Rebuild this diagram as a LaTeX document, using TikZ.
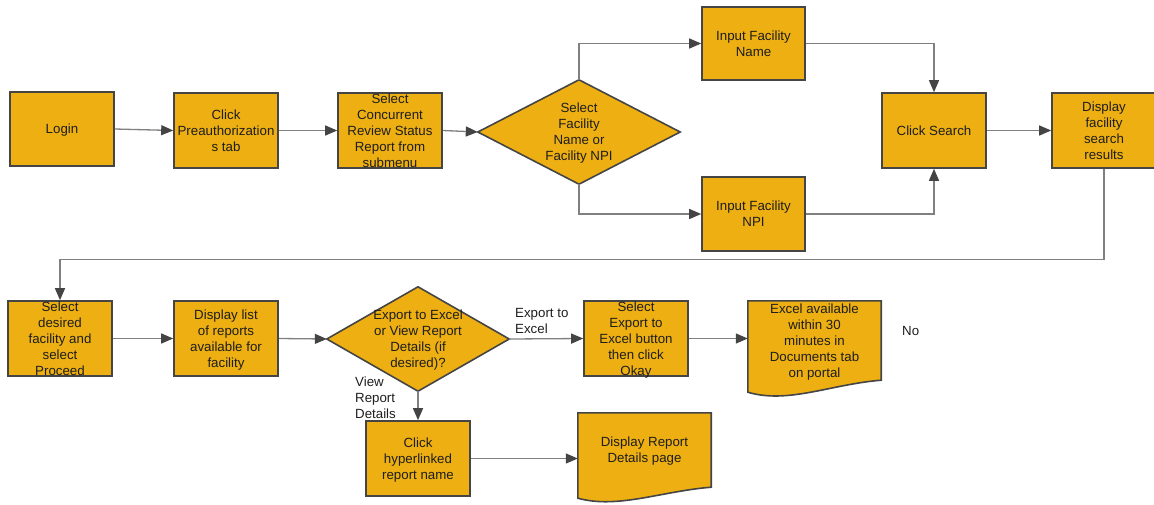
\documentclass[tikz,border=0pt]{standalone}
\usepackage{fontspec}
\setmainfont{Liberation Sans}
\usetikzlibrary{arrows.meta,calc}
\definecolor{boxfill}{HTML}{EDAF12}
\definecolor{boxline}{HTML}{454545}
\definecolor{connc}{HTML}{808080}
\definecolor{tipc}{HTML}{444444}
\definecolor{txt}{HTML}{1E1E1E}
\pgfdeclarelayer{bg}
\pgfsetlayers{bg,main}
\tikzset{
 txtfont/.style={font=\fontsize{13.3}{16}\selectfont, text=txt},
 box/.style={txtfont, draw=boxline, fill=boxfill, line width=1.6pt, minimum width=104pt, minimum height=75pt, inner sep=0pt, align=center, text depth=0pt},
 plainbox/.style={txtfont, draw=none, fill=none, inner sep=0pt, align=center, text depth=0pt},
 shapeline/.style={draw=boxline, fill=boxfill, line width=1.6pt, line join=miter},
 arrowline/.style={draw=connc, line width=1.3pt, -{Triangle[length=12pt,width=10pt,color=tipc]}},
 lbl/.style={txtfont, anchor=west, align=left, inner sep=0pt}
}
\begin{document}
\begin{tikzpicture}[x=1pt,y=-1pt]
\useasboundingbox (0,0) rectangle (1154,504);
% row 1
\node[box, minimum height=74pt] (login) at (62,129) {Login};
\node[box] (pre) at (226,130.5) {Click\\Preauthorization\\s tab};
\node[box] (conc) at (390,130.5) {Select\\Concurrent\\Review Status\\Report from\\submenu};
\node[plainbox, minimum width=202pt, minimum height=104pt] (d1) at (579,132) {Select\\Facility\\Name or\\Facility NPI};
\node[box, minimum width=103pt, minimum height=73pt] (fname) at (753.5,43.5) {Input Facility\\Name};
\node[box, minimum width=103pt, minimum height=74pt] (fnpi) at (753.5,214) {Input Facility\\NPI};
\node[box] (search) at (934,130.5) {Click Search};
\node[box] (disp) at (1104,130.5) {Display\\facility\\search\\results};
% row 2
\node[box] (sel) at (60,338.5) {Select\\desired\\facility and\\select\\Proceed};
\node[box] (list) at (226,338.5) {Display list\\of reports\\available for\\facility};
\node[plainbox, minimum width=182pt, minimum height=104pt] (d2) at (418,339) {Export to Excel\\or View Report\\Details (if\\desired)?};
\node[box] (selexp) at (636,338.5) {Select\\Export to\\Excel button\\then click\\Okay};
\node[plainbox, minimum width=133pt, minimum height=79pt] (excel) at (814.5,340.5) {Excel available\\within 30\\minutes in\\Documents tab\\on portal};
\node[box] (click) at (418,458.5) {Click\\hyperlinked\\report name};
\node[plainbox, minimum width=133pt, minimum height=74pt] (rep) at (644.5,450) {Display Report\\Details page};
% labels
\node[lbl] (lexp) at (515,321) {Export to\\Excel};
\node[lbl] (lview) at (355,398) {View\\Report\\Details};
\node[lbl] (lno) at (902,331) {No};
% background shapes
\begin{pgfonlayer}{bg}
\draw[shapeline] (d1.west) -- (d1.north) -- (d1.east) -- (d1.south) -- cycle;
\draw[shapeline] (d2.west) -- (d2.north) -- (d2.east) -- (d2.south) -- cycle;
\draw[shapeline] (excel.south east) -- (excel.north east) -- (excel.north west) -- ($(excel.south west)+(0,12)$) .. controls +(40,12) and +(-50,4) .. (excel.south east) -- cycle;
\draw[shapeline] (rep.south east) -- (rep.north east) -- (rep.north west) -- ($(rep.south west)+(0,11)$) .. controls +(40,11) and +(-50,4) .. (rep.south east) -- cycle;
\end{pgfonlayer}
% connectors
\draw[arrowline] (login.east) -- (pre.west);
\draw[arrowline] (pre.east) -- (conc.west);
\draw[arrowline] (conc.east) -- (d1.west);
\draw[arrowline] (d1.north) |- (fname.west);
\draw[arrowline] (d1.south) |- (fnpi.west);
\draw[arrowline] (fname.east) -| (search.north);
\draw[arrowline] (fnpi.east) -| (search.south);
\draw[arrowline] (search.east) -- (disp.west);
\draw[arrowline] (disp.south) -- ++(0,91) -| (sel.north);
\draw[arrowline] (sel.east) -- (list.west);
\draw[arrowline] (list.east) -- (d2.west);
\draw[arrowline] (d2.east) -- (selexp.west);
\draw[arrowline] (selexp.east) -- (selexp.east -| excel.west);
\draw[arrowline] (d2.south) -- (click.north);
\draw[arrowline] (click.east) -- (click.east -| rep.west);
\end{tikzpicture}
\end{document}
